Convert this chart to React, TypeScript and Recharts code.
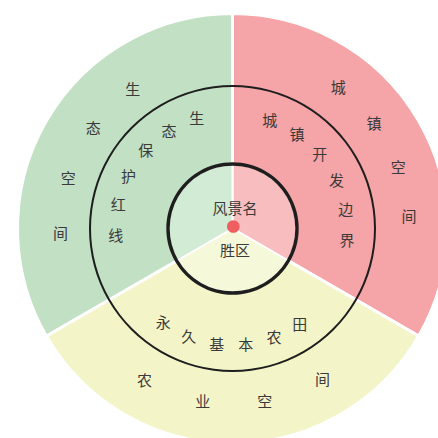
import React from 'react';
import { PieChart, Pie, Cell } from 'recharts';

// Data
const zoneNames = ['城镇空间', '农业空间', '生态空间'];
const boundaryNames = ['城镇开发边界', '永久基本农田', '生态保护红线'];
const zoneValues = [1, 1, 1];
const centerLines = ['风景名', '胜区'];

// Styles / layout constants
const outerColors = ['#f5a4a7', '#f3f5c9', '#c2e0c4'];
const innerColors = ['#f8bdbf', '#f6f8da', '#d2ebd4'];
const readDir = [-1, 1, 1];
const outerLayout = { r: [177, 175, 172], shift: [-1.3, 0.4, 3.3], step: [16.4, 20.4, 18.6] };
const innerLayout = { r: [115, 116, 117], shift: [2.9, -0.6, -4.7], step: [15.3, 14.4, 15] };

const zoneData = zoneNames.map((name, i) => ({ name, inner: boundaryNames[i], value: zoneValues[i] }));
const ringData = [{ name: 'ring', value: 1 }];

const CX = 232.5;
const CY = 228.5;
const FONT = '"Noto Sans CJK SC", "Noto Sans", sans-serif';
const TEXT_COLOR = '#3a3a3a';

const RAD = Math.PI / 180;

function arcText(text: string, cx: number, cy: number, mid: number, r: number, step: number, dir: number, key: string) {
  const chars = Array.from(text);
  const n = chars.length;
  return chars.map((ch, k) => {
    const a = mid + dir * (k - (n - 1) / 2) * step;
    const x = cx + r * Math.cos(a * RAD);
    const y = cy - r * Math.sin(a * RAD);
    return (
      <text
        key={key + k}
        x={x}
        y={y}
        textAnchor="middle"
        dominantBaseline="central"
        fontSize={15}
        fontFamily={FONT}
        fill={TEXT_COLOR}
      >
        {ch}
      </text>
    );
  });
}

const renderZoneLabel = (props: any) => {
  const { midAngle, index } = props;
  const dir = readDir[index];
  return (
    <g key={'lbl' + index}>
      {arcText(zoneData[index].name, CX, CY, midAngle + outerLayout.shift[index], outerLayout.r[index], outerLayout.step[index], dir, 'o' + index)}
      {arcText(zoneData[index].inner, CX, CY, midAngle + innerLayout.shift[index], innerLayout.r[index], innerLayout.step[index], dir, 'i' + index)}
    </g>
  );
};

const DOT_X = 233.3;
const DOT_Y = 226.5;

const renderCenterLabel = () => (
  <g key="center">
    <text x={DOT_X + 1.7} y={DOT_Y - 19.5} textAnchor="middle" dominantBaseline="central" fontSize={15} fontFamily={FONT} fill={TEXT_COLOR}>
      {centerLines[0]}
    </text>
    <text x={DOT_X + 1.7} y={DOT_Y + 23} textAnchor="middle" dominantBaseline="central" fontSize={15} fontFamily={FONT} fill={TEXT_COLOR}>
      {centerLines[1]}
    </text>
  </g>
);

export default function App() {
  return (
    <div style={{ position: 'absolute', left: 0, top: 0, width: 438, height: 438, background: '#fff' }}>
      <PieChart width={438} height={438} margin={{ top: 0, right: 0, bottom: 0, left: 0 }}>
        <Pie
          data={zoneData}
          dataKey="value"
          cx={CX}
          cy={CY}
          innerRadius={0}
          outerRadius={215}
          startAngle={90}
          endAngle={-270}
          stroke="#ffffff"
          strokeWidth={3}
          label={renderZoneLabel}
          labelLine={false}
          isAnimationActive={false}
        >
          {zoneData.map((d, i) => (
            <Cell key={d.name} fill={outerColors[i]} />
          ))}
        </Pie>
        <Pie
          data={zoneData}
          dataKey="value"
          cx={CX}
          cy={CY}
          innerRadius={0}
          outerRadius={64}
          startAngle={90}
          endAngle={-270}
          stroke="#ffffff"
          strokeWidth={2}
          isAnimationActive={false}
        >
          {zoneData.map((d, i) => (
            <Cell key={d.name} fill={innerColors[i]} />
          ))}
        </Pie>
        <Pie
          data={ringData}
          dataKey="value"
          cx={CX}
          cy={CY}
          innerRadius={141.5}
          outerRadius={143.5}
          startAngle={90}
          endAngle={-270}
          stroke="none"
          fill="#1e1e1e"
          isAnimationActive={false}
        />
        <Pie
          data={ringData}
          dataKey="value"
          cx={CX}
          cy={CY}
          innerRadius={62.8}
          outerRadius={66.2}
          startAngle={90}
          endAngle={-270}
          stroke="none"
          fill="#1e1e1e"
          isAnimationActive={false}
        />
        <Pie
          data={ringData}
          dataKey="value"
          cx={DOT_X}
          cy={DOT_Y}
          innerRadius={0}
          outerRadius={6.3}
          startAngle={90}
          endAngle={-270}
          stroke="none"
          fill="#ef5f5f"
          label={renderCenterLabel}
          labelLine={false}
          isAnimationActive={false}
        />
      </PieChart>
    </div>
  );
}
